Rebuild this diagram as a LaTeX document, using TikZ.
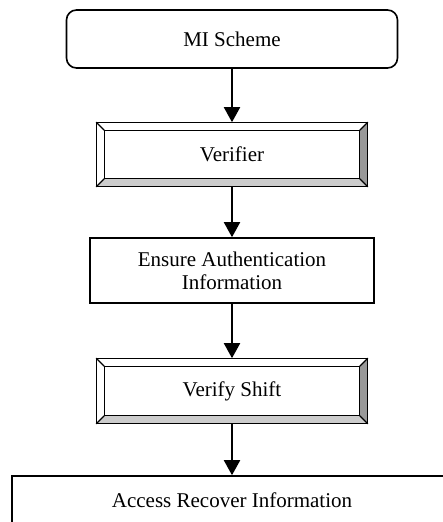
\documentclass[tikz,border=0pt]{standalone}
\usepackage{fontspec}
\setmainfont{Liberation Serif}
\usetikzlibrary{arrows.meta,calc}
\tikzset{
  base/.style={draw, line width=1.6pt, font=\fontsize{21}{23}\selectfont, inner sep=0pt, align=center},
  roundbox/.style={base, rounded corners=10pt},
  plainbox/.style={base},
  bevelbox/.style={base, draw=none},
  bevelline/.style={line width=1.3pt, line join=miter},
  flow/.style={line width=2pt, -{Triangle[length=15pt,width=16pt]}},
}
\newcommand{\drawbevel}[2]{%
  \coordinate (#1-inw) at ($(#1.north west)+(#2,#2)$);
  \coordinate (#1-ine) at ($(#1.north east)+(-#2,#2)$);
  \coordinate (#1-isw) at ($(#1.south west)+(#2,-#2)$);
  \coordinate (#1-ise) at ($(#1.south east)+(-#2,-#2)$);
  \fill[white] (#1.north west) -- (#1.north east) -- (#1-ine) -- (#1-inw) -- cycle;
  \fill[white] (#1.north west) -- (#1-inw) -- (#1-isw) -- (#1.south west) -- cycle;
  \fill[black!20] (#1.south west) -- (#1-isw) -- (#1-ise) -- (#1.south east) -- cycle;
  \fill[black!40] (#1.north east) -- (#1.south east) -- (#1-ise) -- (#1-ine) -- cycle;
  \draw[bevelline] (#1.north west) rectangle (#1.south east);
  \draw[bevelline] (#1-inw) rectangle (#1-ise);
  \draw[bevelline] (#1.north west) -- (#1-inw);
  \draw[bevelline] (#1.north east) -- (#1-ine);
  \draw[bevelline] (#1.south west) -- (#1-isw);
  \draw[bevelline] (#1.south east) -- (#1-ise);
}
\begin{document}
\begin{tikzpicture}[x=1pt,y=-1pt]
\useasboundingbox (0,0) rectangle (443,522);
\clip (0,0) rectangle (443,522);
\node[roundbox, minimum width=331pt, minimum height=58pt] (mi) at (232,39) {MI Scheme};
\node[bevelbox, minimum width=270pt, minimum height=63pt] (ver) at (232,154.5) {};
\drawbevel{ver}{8}
\node[font=\fontsize{21}{23}\selectfont] (vertext) at (ver.center) {Verifier};
\node[plainbox, minimum width=284pt, minimum height=65pt] (ens) at (232,270.5) {Ensure Authentication\\Information};
\node[bevelbox, minimum width=270pt, minimum height=64pt] (vs) at (232,391) {};
\drawbevel{vs}{8}
\node[font=\fontsize{21}{23}\selectfont] (vstext) at (vs.center) {Verify Shift};
\node[plainbox, minimum width=440pt, minimum height=48pt] (acc) at (232,500) {Access Recover Information};
\draw[flow] (mi.south) -- (ver.north);
\draw[flow] (ver.south) -- (ens.north);
\draw[flow] (ens.south) -- (vs.north);
\draw[flow] (vs.south) -- (acc.north);
\end{tikzpicture}
\end{document}
